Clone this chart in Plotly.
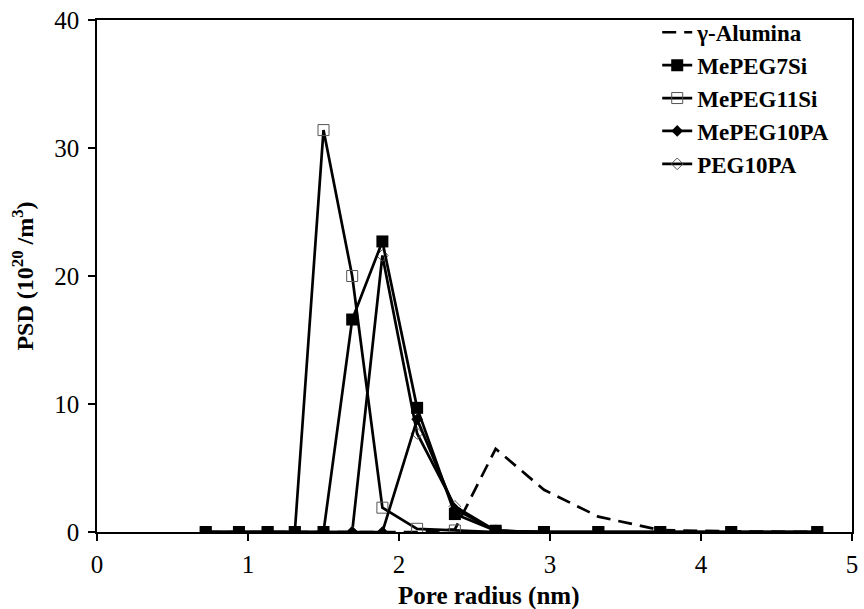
import plotly.graph_objects as go

# Pore radius grid (nm)
radius = [0.72, 0.94, 1.13, 1.31, 1.50, 1.69, 1.89, 2.12, 2.37, 2.64, 2.96, 3.32, 3.73, 4.20, 4.77]

alumina   = [0, 0, 0, 0, 0, 0, 0, 0, 0.2, 6.5, 3.3, 1.2, 0.15, 0.05, 0]
mepeg7si  = [0, 0, 0, 0, 0, 16.6, 22.7, 9.7, 1.4, 0.1, 0, 0, 0, 0, 0]
mepeg11si = [0, 0, 0, 0, 31.4, 20.0, 1.9, 0.25, 0.12, 0, 0, 0, 0, 0, 0]
mepeg10pa = [0, 0, 0, 0, 0, 0, 0, 8.8, 1.8, 0.1, 0, 0, 0, 0, 0]
peg10pa   = [0, 0, 0, 0, 0, 0, 21.6, 7.7, 2.0, 0.1, 0, 0, 0, 0, 0]

x_ticks = [0, 1, 2, 3, 4, 5]
y_ticks = [0, 10, 20, 30, 40]

FONT = "Liberation Serif"
LW = 2.7
fig = go.Figure()

fig.add_trace(go.Scatter(x=radius, y=alumina, name="γ-Alumina", mode="lines",
                         line=dict(color="black", width=LW, dash="14px,8px"), legendrank=1))
fig.add_trace(go.Scatter(x=radius, y=peg10pa, name="PEG10PA", mode="lines+markers",
                         line=dict(color="black", width=LW),
                         marker=dict(symbol="diamond-open", size=9, color="#555",
                                     line=dict(width=1, color="#555")), legendrank=5))
fig.add_trace(go.Scatter(x=radius, y=mepeg11si, name="MePEG11Si", mode="lines+markers",
                         line=dict(color="black", width=LW),
                         marker=dict(symbol="square-open", size=11, color="#555",
                                     line=dict(width=1, color="#555")), legendrank=3))
fig.add_trace(go.Scatter(x=radius, y=mepeg10pa, name="MePEG10PA", mode="lines+markers",
                         line=dict(color="black", width=LW),
                         marker=dict(symbol="diamond", size=9, color="black"), legendrank=4))
fig.add_trace(go.Scatter(x=radius, y=mepeg7si, name="MePEG7Si", mode="lines+markers",
                         line=dict(color="black", width=LW),
                         marker=dict(symbol="square", size=12, color="black"), legendrank=2))

axis_common = dict(showline=True, linecolor="black", linewidth=1.5, mirror=True,
                   ticks="outside", ticklen=7, tickwidth=1.5, tickcolor="black",
                   showgrid=False, zeroline=False,
                   tickfont=dict(family=FONT, size=25, color="black"))

fig.update_xaxes(range=[0, 5], tickvals=x_ticks, ticklabelstandoff=2, **axis_common)
fig.update_yaxes(range=[0, 40], tickvals=y_ticks, ticklabelstandoff=4,
                 title=dict(text="<b>PSD (10<sup>20</sup> /m<sup>3</sup>)</b>",
                            font=dict(family=FONT, size=24, color="black"), standoff=14),
                 **axis_common)

fig.add_annotation(text="<b>Pore radius (nm)</b>", xref="paper", yref="paper",
                   x=0.518, y=-0.125, xanchor="center", yanchor="middle", showarrow=False,
                   font=dict(family=FONT, size=25, color="black"))

fig.update_layout(
    width=864, height=609,
    margin=dict(l=97, r=6, t=20, b=77),
    plot_bgcolor="white", paper_bgcolor="white",
    font=dict(family=FONT, color="black"),
    legend=dict(x=0.742, y=1.018, xanchor="left", yanchor="top",
                bgcolor="rgba(0,0,0,0)", tracegroupgap=0,
                font=dict(family=FONT, size=23, color="black", weight="bold")),
)

fig.write_html("out.html")
